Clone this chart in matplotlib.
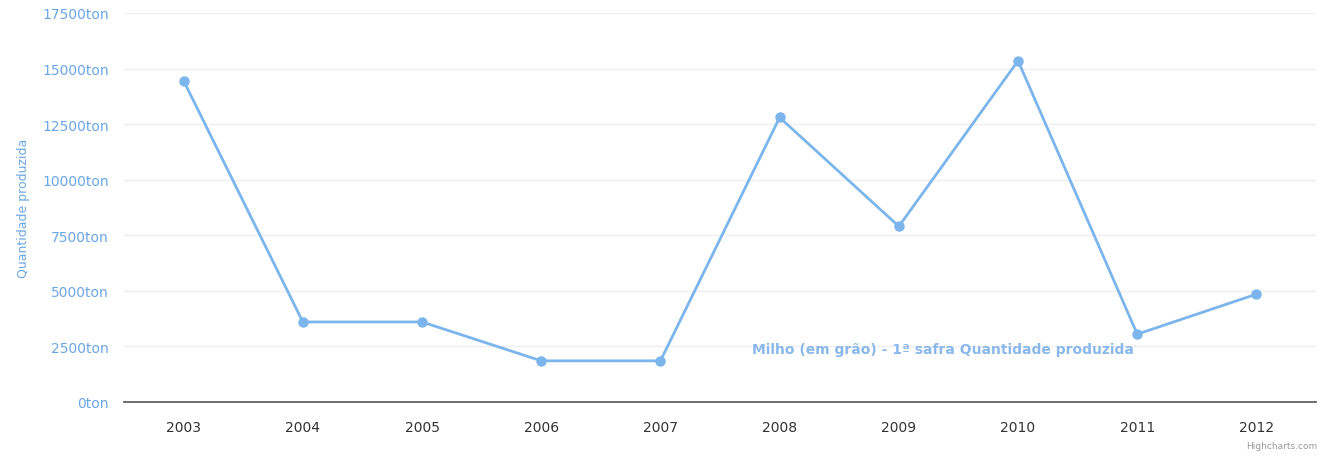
import matplotlib.pyplot as plt

# Data
years = ['2003', '2004', '2005', '2006', '2007', '2008', '2009', '2010', '2011', '2012']
production = [14450, 3600, 3600, 1850, 1850, 12800, 7900, 15350, 3050, 4850]
y_ticks = [0, 2500, 5000, 7500, 10000, 12500, 15000, 17500]

line_color = '#7cb5ec'
label_color = '#6aa6e6'

fig = plt.figure(figsize=(13.28, 4.6), dpi=100)
ax = fig.add_axes([0.0934, 0.124, 0.8976, 0.8456])

x = list(range(len(years)))
ax.plot(x, production, color=line_color, linewidth=2, marker='o', markersize=6.5,
        markerfacecolor=line_color, markeredgecolor=line_color, zorder=3)

ax.set_xlim(-0.5, len(years) - 0.5)
ax.set_ylim(0, 17500)
ax.set_xticks(x)
ax.set_xticklabels(years, fontsize=10, color='#333333')
ax.set_yticks(y_ticks)
ax.set_yticklabels([f'{v}ton' for v in y_ticks], fontsize=10, color=label_color)
ax.tick_params(axis='both', length=0)
ax.tick_params(axis='x', pad=13)
ax.tick_params(axis='y', pad=11)

ax.grid(axis='y', color='#efefef', linewidth=1)
ax.set_axisbelow(True)
for side in ['top', 'right', 'left']:
    ax.spines[side].set_visible(False)
ax.spines['bottom'].set_color('#555555')
ax.spines['bottom'].set_linewidth(1.2)

ax.set_ylabel('Quantidade produzida', fontsize=9, color=label_color, labelpad=9)

# series label, like the Highcharts one
ax.text(6.37, 2380, 'Milho (em grão) - 1ª safra Quantidade produzida',
        fontsize=10, fontweight='bold', color='#8ab8ea', ha='center', va='center')

fig.text(0.992, 0.02, 'Highcharts.com', fontsize=6.5, color='#999999', ha='right', va='bottom')

fig.savefig('out.png', dpi=100)
